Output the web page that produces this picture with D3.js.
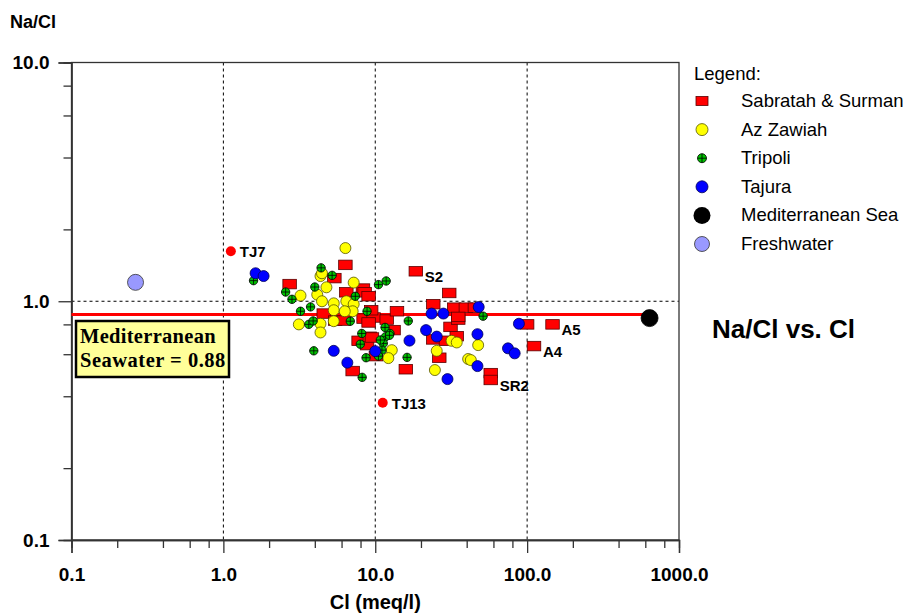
<!DOCTYPE html>
<html><head><meta charset="utf-8">
<script src="https://cdn.jsdelivr.net/npm/d3@7"></script>
<style>
body{margin:0;background:#fff;}
svg{display:block;font-family:"Liberation Sans",Arial,sans-serif;}
</style></head>
<body><svg id="c" width="920" height="613"></svg>
<script>
// ---- data: [Cl (meq/l), Na/Cl] ----
const sabratah = [
 [2.73,1.18],[6.36,1.42],[18.5,1.335],[5.38,1.25],[6.45,1.09],[8.3,1.13],[8.51,1.09],[9.04,1.05],
 [4.58,0.888],[5.45,0.83],[6.2,0.83],[8.38,0.846],[9.75,0.855],[9.04,0.815],[9.4,0.917],[11.9,0.838],
 [13.9,0.908],[7.77,0.683],[8.83,0.655],[9.2,0.71],[9.51,0.705],[13.2,0.757],[10.1,0.589],[7.1,0.51],
 [15.9,0.519],[26.4,0.58],[24.1,0.692],[29.2,0.683],[31.3,0.781],[34.4,0.714],[35.2,0.838],[24.1,0.972],
 [30.7,1.083],[33.1,0.94],[39.5,0.94],[45.3,0.94],[35.2,0.86],[100,0.8],[147,0.8],[111,0.649],
 [57.6,0.5],[57.6,0.468]
];
const azZawiah = [
 [6.36,1.67],[4.36,1.275],[4.46,1.31],[7.21,1.197],[3.22,1.056],[4.77,1.144],[4.15,1.066],[4.46,1.0],
 [5.33,0.98],[5.33,0.917],[6.45,1.0],[7.21,0.972],[7.1,0.908],[6.3,0.908],[3.14,0.8],[4.36,0.805],
 [4.36,0.74],[5.33,0.825],[12.85,0.624],[12.2,0.578],[25.4,0.62],[24.7,0.515],[31.8,0.683],[34.4,0.672],
 [40.9,0.573],[47.6,0.655],[42.6,0.567]
];
const tripoli = [
 [1.58,1.22],[2.57,1.093],[2.83,1.019],[4.4,1.38],[5.2,1.284],[4.0,1.147],[7.39,1.049],[10.5,1.174],
 [11.8,1.216],[3.75,0.947],[3.22,0.908],[3.65,0.8],[3.9,0.827],[6.85,0.825],[8.83,0.908],[16.5,0.827],
 [11.6,0.777],[12.5,0.733],[11.7,0.71],[8.15,0.733],[7.97,0.661],[11.3,0.666],[11.07,0.624],[10.5,0.589],
 [8.7,0.58],[16.2,0.582],[8.2,0.48],[3.94,0.62],[51.3,0.866],[10.8,0.688],[12.4,0.72]
];
const tajura = [
 [1.63,1.31],[1.84,1.275],[5.33,0.62],[6.55,0.553],[10.0,0.618],[16.8,0.684],[21.6,0.757],[25.4,0.711],
 [23.5,0.888],[28.1,0.888],[29.9,0.472],[48,0.946],[47.1,0.728],[47.1,0.535],[88.3,0.805],[74.8,0.635],
 [82.8,0.605]
];
const medSea = [[640,0.85]];
const freshwater = [[0.264,1.2]];
const seawaterRatio = 0.88;
const namedPoints = [ // labelled samples shown as small red dots
 {name:"TJ7", cl:1.12, r:1.62},
 {name:"TJ13", cl:11.2, r:0.376}
];
const namedSquares = [ // labels next to Sabratah squares
 {name:"S2", cl:18.5, r:1.335},
 {name:"A5", cl:147, r:0.8},
 {name:"A4", cl:111, r:0.649},
 {name:"SR2", cl:57.6, r:0.468}
];
const xTicksMajor = [0.1,1,10,100,1000];
const xTickLabels = ["0.1","1.0","10.0","100.0","1000.0"];
const yTicksMajor = [0.1,1,10];
const yTickLabels = ["0.1","1.0","10.0"];
const minorMult = [2,4,6,8];
const legendItems = ["Sabratah & Surman","Az Zawiah","Tripoli","Tajura","Mediterranean Sea","Freshwater"];

// ---- layout ----
const L=71.5, R=679, T=62.5, B=540;
const svg=d3.select("#c");
const x=d3.scaleLog().domain([0.1,1000]).range([L,R]);
const y=d3.scaleLog().domain([0.1,10]).range([B,T]);

const xMinor=[], yMinor=[];
[0.1,1,10,100].forEach(d=>minorMult.forEach(m=>xMinor.push(d*m)));
[0.1,1].forEach(d=>minorMult.forEach(m=>yMinor.push(d*m)));

// grid
const g=svg.append("g");
g.selectAll(".vg").data([1,10,100]).join("line")
 .attr("x1",d=>x(d)).attr("x2",d=>x(d)).attr("y1",T).attr("y2",B)
 .attr("stroke","#000").attr("stroke-width",1).attr("stroke-dasharray","3,3");
g.selectAll(".hg").data([1]).join("line")
 .attr("x1",L).attr("x2",R).attr("y1",d=>y(d)).attr("y2",d=>y(d))
 .attr("stroke","#000").attr("stroke-width",1).attr("stroke-dasharray","3,3");

// frame
svg.append("rect").attr("x",L).attr("y",T).attr("width",R-L).attr("height",B-T)
 .attr("fill","none").attr("stroke","#333").attr("stroke-width",1.3);

// axes
const fmtX=d=>xTickLabels[xTicksMajor.indexOf(d)];
const fmtY=d=>yTickLabels[yTicksMajor.indexOf(d)];
svg.append("g").attr("transform",`translate(0,${B})`)
 .call(d3.axisBottom(x).tickValues(xTicksMajor).tickFormat(fmtX).tickSize(13).tickPadding(15));
svg.append("g").attr("transform",`translate(0,${B})`)
 .call(d3.axisBottom(x).tickValues(xMinor).tickFormat("").tickSize(8));
svg.append("g").attr("transform",`translate(${L},0)`)
 .call(d3.axisLeft(y).tickValues(yTicksMajor).tickFormat(fmtY).tickSize(13).tickPadding(9));
svg.append("g").attr("transform",`translate(${L},0)`)
 .call(d3.axisLeft(y).tickValues(yMinor).tickFormat("").tickSize(8));
svg.selectAll(".domain").attr("stroke","#333").attr("stroke-width",1.3);
svg.selectAll(".tick line").attr("stroke","#333").attr("stroke-width",1.3);
svg.selectAll(".tick text").style("font-family","'Liberation Sans', Arial").attr("font-weight","bold")
 .attr("font-size",19).attr("fill","#000");

svg.append("text").attr("x",10).attr("y",28).attr("font-weight","bold").attr("font-size",18).text("Na/Cl");
svg.append("text").attr("x",(L+R)/2).attr("y",609).attr("text-anchor","middle")
 .attr("font-weight","bold").attr("font-size",20).text("Cl (meq/l)");

// seawater line
svg.append("line").attr("x1",x(0.1)).attr("x2",x(medSea[0][0])).attr("y1",y(seawaterRatio)).attr("y2",y(seawaterRatio))
 .attr("stroke","#ff0000").attr("stroke-width",3);

// annotation box
const bx=76, by=321, bw=153, bh=56;
svg.append("rect").attr("x",bx).attr("y",by).attr("width",bw).attr("height",bh)
 .attr("fill","#ffff99").attr("stroke","#000").attr("stroke-width",2.5);
svg.append("text").attr("x",bx+4).attr("y",by+22).style("font-family","'Liberation Serif','Times New Roman',serif")
 .attr("font-weight","bold").attr("font-size",20.5).attr("letter-spacing",0.3).text("Mediterranean");
svg.append("text").attr("x",bx+4).attr("y",by+46).style("font-family","'Liberation Serif','Times New Roman',serif")
 .attr("font-weight","bold").attr("font-size",20.5).attr("letter-spacing",0.5).text("Seawater = 0.88");

// markers
const sqW=13.5, sqH=9.5;
function drawSquares(sel,data){
 sel.selectAll(null).data(data).join("rect")
  .attr("x",d=>x(d[0])-sqW/2).attr("y",d=>y(d[1])-sqH/2).attr("width",sqW).attr("height",sqH)
  .attr("fill","#ff0000").attr("stroke","#5a0000").attr("stroke-width",0.8);
}
function drawCircles(sel,data,fill,r,stroke){
 sel.selectAll(null).data(data).join("circle")
  .attr("cx",d=>x(d[0])).attr("cy",d=>y(d[1])).attr("r",r)
  .attr("fill",fill).attr("stroke",stroke).attr("stroke-width",0.8);
}
function drawCross(sel,data,r){
 const gg=sel.selectAll(null).data(data).join("g").attr("transform",d=>`translate(${x(d[0])},${y(d[1])})`);
 gg.append("circle").attr("r",r).attr("fill","#00c000").attr("stroke","#000").attr("stroke-width",0.8);
 gg.append("line").attr("x1",-r).attr("x2",r).attr("stroke","#000").attr("stroke-width",0.8);
 gg.append("line").attr("y1",-r).attr("y2",r).attr("stroke","#000").attr("stroke-width",0.8);
}
const pts=svg.append("g");
drawSquares(pts.append("g"),sabratah);
drawCircles(pts.append("g"),azZawiah,"#ffff00",5.5,"#555500");
drawCross(pts.append("g"),tripoli,4.2);
drawCircles(pts.append("g"),tajura,"#0000ff",5.5,"#000055");
drawCircles(pts.append("g"),medSea,"#000",8.5,"#000");
drawCircles(pts.append("g"),freshwater,"#9999ff",8,"#333");

pts.selectAll(null).data(namedPoints).join("circle")
 .attr("cx",d=>x(d.cl)).attr("cy",d=>y(d.r)).attr("r",5).attr("fill","#ff0000");
svg.selectAll(null).data(namedPoints).join("text")
 .attr("x",d=>x(d.cl)+9).attr("y",d=>y(d.r)+6).attr("font-weight","bold").attr("font-size",15).text(d=>d.name);
svg.selectAll(null).data(namedSquares).join("text")
 .attr("x",d=>x(d.cl)+9).attr("y",d=>y(d.r)+11).attr("font-weight","bold").attr("font-size",15).text(d=>d.name);

// legend
const lg=svg.append("g");
lg.append("text").attr("x",694).attr("y",80).attr("font-size",18.5).text("Legend:");
const ly=i=>101+i*28.6;
legendItems.forEach((t,i)=>{
 lg.append("text").attr("x",741).attr("y",ly(i)+6).attr("font-size",18.5).text(t);
});
lg.append("rect").attr("x",696).attr("y",ly(0)-4.5).attr("width",12).attr("height",9).attr("fill","#ff0000").attr("stroke","#5a0000").attr("stroke-width",0.8);
lg.append("circle").attr("cx",702).attr("cy",ly(1)).attr("r",6).attr("fill","#ffff00").attr("stroke","#555500").attr("stroke-width",0.8);
const lc=lg.append("g").attr("transform",`translate(702,${ly(2)})`);
lc.append("circle").attr("r",4.5).attr("fill","#00c000").attr("stroke","#000").attr("stroke-width",0.8);
lc.append("line").attr("x1",-4.5).attr("x2",4.5).attr("stroke","#000").attr("stroke-width",0.8);
lc.append("line").attr("y1",-4.5).attr("y2",4.5).attr("stroke","#000").attr("stroke-width",0.8);
lg.append("circle").attr("cx",702).attr("cy",ly(3)).attr("r",6).attr("fill","#0000ff").attr("stroke","#000055").attr("stroke-width",0.8);
lg.append("circle").attr("cx",702).attr("cy",ly(4)).attr("r",8.5).attr("fill","#000");
lg.append("circle").attr("cx",702).attr("cy",ly(5)).attr("r",7.5).attr("fill","#9999ff").attr("stroke","#333").attr("stroke-width",0.8);

svg.append("text").attr("x",712).attr("y",338).attr("font-weight","bold").attr("font-size",26).text("Na/Cl vs. Cl");
</script></body></html>
